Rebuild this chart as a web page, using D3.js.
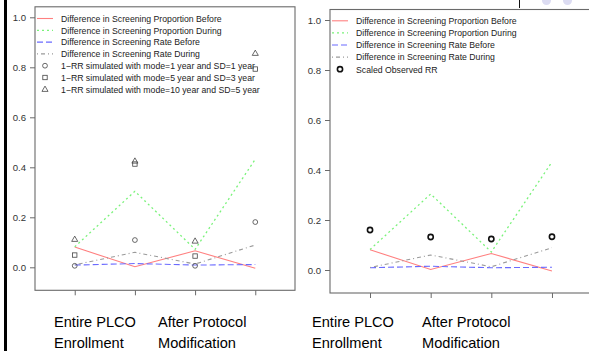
<!DOCTYPE html>
<html>
<head>
<meta charset="utf-8">
<script src="https://cdn.jsdelivr.net/npm/d3@7"></script>
<style>
  html, body { margin: 0; padding: 0; background: #fff; }
  svg { display: block; font-family: "Liberation Sans", Arial, sans-serif; }
</style>
</head>
<body>
<svg id="chart" width="589" height="351"></svg>
<script>
// Study periods along the x axis (positions 1..4)
const periods = [1, 2, 3, 4];
const yTicks = [0.0, 0.2, 0.4, 0.6, 0.8, 1.0];

// Screening differences (same in both panels)
const propBefore = [0.081, 0.002, 0.066, -0.004];
const propDuring = [0.082, 0.304, 0.072, 0.432];
const rateBefore = [0.009, 0.015, 0.009, 0.011];
const rateDuring = [0.010, 0.060, 0.013, 0.089];

// 1-RR simulated under three delay distributions
const simMode1 = [0.006, 0.109, 0.006, 0.181];
const simMode5 = [0.049, 0.413, 0.045, 0.793];
const simMode10 = [0.112, 0.425, 0.105, 0.856];

// Scaled observed RR
const observedRR = [0.160, 0.132, 0.124, 0.133];

const lineSeries = [
  { label: "Difference in Screening Proportion Before", values: propBefore, color: "#ff8080", dash: null, width: 1.1 },
  { label: "Difference in Screening Proportion During", values: propDuring, color: "#7af27a", dash: "2,3", width: 1.3 },
  { label: "Difference in Screening Rate Before", values: rateBefore, color: "#6b6bff", dash: "6,3", width: 1.1 },
  { label: "Difference in Screening Rate During", values: rateDuring, color: "#9a9a9a", dash: "1,3,4,3", width: 1.1 }
];

const leftPoints = [
  { label: "1\u2212RR simulated with mode=1 year and SD=1 year", values: simMode1, shape: "circle" },
  { label: "1\u2212RR simulated with mode=5 year and SD=3 year", values: simMode5, shape: "square" },
  { label: "1\u2212RR simulated with mode=10 year and SD=5 year", values: simMode10, shape: "triangle" }
];
const rightPoints = [
  { label: "Scaled Observed RR", values: observedRR, shape: "circle", bold: true }
];

const svg = d3.select("#chart");

// decorative slide elements
svg.append("rect").attr("x", 4).attr("y", 0).attr("width", 3).attr("height", 351).attr("fill", "#000");
svg.append("line").attr("x1", 519.5).attr("x2", 519.5).attr("y1", 0).attr("y2", 8)
  .attr("stroke", "#111").attr("stroke-width", 1);
svg.append("circle").attr("cx", 546.5).attr("cy", 0.5).attr("r", 4.5).attr("fill", "#dcdcf2");
svg.append("circle").attr("cx", 567.5).attr("cy", 0.5).attr("r", 4.5).attr("fill", "#dcdcf2");

const panels = [
  { left: 35, right: 295, top: 6.8, bottom: 290.3, lines: lineSeries, points: leftPoints,
    legend: { x: 37, y: 18.5, step: 11.8 }, labelX: [54, 158] },
  { left: 330, right: 592, top: 9.5, bottom: 293, lines: lineSeries, points: rightPoints,
    legend: { x: 332, y: 20.8, step: 12.1 }, labelX: [312, 422] }
];

function drawShape(g, shape, cx, cy, bold) {
  const stroke = bold ? "#111" : "#444";
  const sw = bold ? 1.6 : 0.8;
  if (shape === "circle") {
    g.append("circle").attr("cx", cx).attr("cy", cy).attr("r", bold ? 2.6 : 2.4)
      .attr("fill", "none").attr("stroke", stroke).attr("stroke-width", sw);
  } else if (shape === "square") {
    g.append("rect").attr("x", cx - 2.2).attr("y", cy - 2.2).attr("width", 4.4).attr("height", 4.4)
      .attr("fill", "none").attr("stroke", stroke).attr("stroke-width", sw);
  } else {
    const s = 3.2;
    g.append("path")
      .attr("d", `M${cx},${cy - s}L${cx + s * 0.95},${cy + s * 0.65}L${cx - s * 0.95},${cy + s * 0.65}Z`)
      .attr("fill", "none").attr("stroke", stroke).attr("stroke-width", sw);
  }
}

panels.forEach(p => {
  const x = d3.scaleLinear().domain([0.34, 4.66]).range([p.left, p.right]);
  const y = d3.scaleLinear().domain([-0.092, 1.042]).range([p.bottom, p.top]);
  const g = svg.append("g");

  // frame
  g.append("rect").attr("x", p.left).attr("y", p.top)
    .attr("width", p.right - p.left).attr("height", p.bottom - p.top)
    .attr("fill", "none").attr("stroke", "#6a6a6a").attr("stroke-width", 1.1);

  // y axis
  const yAxis = g.append("g").attr("transform", `translate(${p.left},0)`)
    .call(d3.axisLeft(y).tickValues(yTicks).tickFormat(d3.format(".1f")).tickSize(5).tickPadding(4));
  yAxis.select(".domain").remove();
  yAxis.selectAll(".tick line").attr("stroke", "#6a6a6a");
  yAxis.selectAll("text").attr("fill", "#333").style("font-size", "9.6px")
    .style("font-family", "'Liberation Sans', Arial, sans-serif");

  // x axis ticks only
  const xAxis = g.append("g").attr("transform", `translate(0,${p.bottom})`)
    .call(d3.axisBottom(x).tickValues(periods).tickFormat("").tickSize(5));
  xAxis.select(".domain").remove();
  xAxis.selectAll(".tick line").attr("stroke", "#6a6a6a");

  // series lines
  const line = d3.line().x((d, i) => x(periods[i])).y(d => y(d));
  p.lines.forEach(s => {
    g.append("path").datum(s.values).attr("d", line)
      .attr("fill", "none").attr("stroke", s.color).attr("stroke-width", s.width)
      .attr("stroke-dasharray", s.dash);
  });

  // points
  p.points.forEach(s => {
    s.values.forEach((v, i) => drawShape(g, s.shape, x(periods[i]), y(v), s.bold));
  });

  // legend
  const lg = g.append("g");
  const entries = p.lines.map(s => ({ type: "line", s })).concat(p.points.map(s => ({ type: "point", s })));
  entries.forEach((e, i) => {
    const cy = p.legend.y + i * p.legend.step;
    if (e.type === "line") {
      lg.append("line").attr("x1", p.legend.x).attr("x2", p.legend.x + 16).attr("y1", cy).attr("y2", cy)
        .attr("stroke", e.s.color).attr("stroke-width", e.s.width).attr("stroke-dasharray", e.s.dash);
    } else {
      drawShape(lg, e.s.shape, p.legend.x + 8, cy, e.s.bold);
    }
    lg.append("text").attr("x", p.legend.x + 24).attr("y", cy + 3.3)
      .attr("fill", "#222").style("font-size", "8.7px")
      .text(e.s.label);
  });

  // period labels
  const labels = [["Entire PLCO", "Enrollment"], ["After Protocol", "Modification"]];
  labels.forEach((lines, k) => {
    lines.forEach((t, j) => {
      g.append("text").attr("x", p.labelX[k]).attr("y", 327 + j * 21)
        .attr("fill", "#000").style("font-size", "14.6px").text(t);
    });
  });
});
</script>
</body>
</html>
